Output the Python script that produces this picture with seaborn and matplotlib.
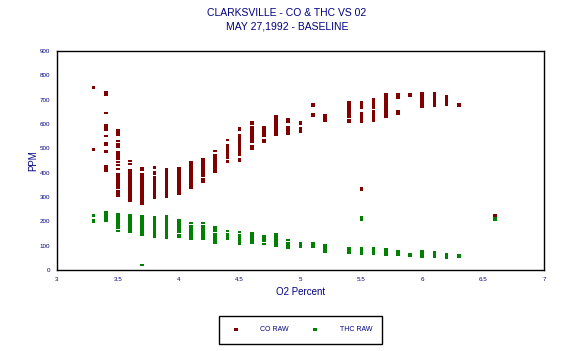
import matplotlib
matplotlib.use("Agg")
import matplotlib.pyplot as plt
import seaborn as sns
import pandas as pd

# O2 percent columns and the ppm readings stacked in each
co_o2 = [3.3, 3.4, 3.5, 3.6, 3.7, 3.8, 3.9, 4.0, 4.1, 4.2, 4.3, 4.4, 4.5, 4.6, 4.7,
         4.8, 4.9, 5.0, 5.1, 5.2, 5.4, 5.5, 5.6, 5.7, 5.8, 5.9, 6.0, 6.1, 6.2, 6.3, 6.6]
co_ppm = [
    [750, 495],
    [730, 720, 645, 595, 585, 577, 550, 523, 513, 487, 425, 415, 407],
    [575, 565, 557, 530, 518, 508, 485, 475, 465, 455, 445, 431, 416, 395, 385, 375,
     365, 356, 346, 336, 325, 315, 306],
    [448, 436, 410, 400, 390, 380, 370, 360, 350, 340, 330, 320, 310, 300, 292, 283],
    [419, 410, 393, 385, 378, 368, 358, 348, 338, 328, 318, 308, 298, 288, 278, 271],
    [423, 418, 402, 397, 382, 372, 362, 352, 342, 332, 322, 312, 302, 295],
    [415, 405, 395, 385, 375, 365, 355, 345, 335, 325, 315, 305, 301],
    [419, 409, 399, 389, 379, 369, 359, 349, 339, 329, 319, 314],
    [443, 433, 423, 413, 403, 393, 383, 373, 363, 353, 343, 338],
    [456, 446, 436, 426, 416, 406, 396, 386, 373, 363],
    [489, 470, 463, 453, 443, 433, 423, 413, 403],
    [533, 513, 503, 495, 489, 479, 469, 459, 449, 443],
    [582, 577, 555, 545, 535, 525, 515, 509, 499, 489, 479, 474, 457, 447],
    [607, 602, 587, 577, 567, 557, 547, 537, 527, 525, 509, 499],
    [587, 577, 567, 557, 552, 535, 528],
    [633, 622, 616, 606, 596, 586, 581, 575, 565, 557],
    [620, 610, 587, 577, 567, 561],
    [607, 602, 583, 573, 569],
    [682, 676, 642, 635],
    [637, 631, 620, 614],
    [691, 684, 674, 664, 659, 649, 639, 631, 616, 610],
    [691, 684, 678, 668, 645, 635, 631, 625, 615, 610, 337, 330],
    [703, 696, 690, 680, 670, 668, 653, 647, 637, 631, 620, 614],
    [721, 714, 707, 697, 688, 682, 676, 666, 656, 647, 637, 631],
    [721, 715, 709, 653, 643],
    [721, 714],
    [725, 719, 713, 707, 700, 696, 690, 684, 678, 672],
    [727, 720, 712, 704, 696, 688, 682, 676],
    [716, 709, 703, 696, 692, 686, 680],
    [683, 676],
    [225, 219],
]

thc_o2 = co_o2
thc_ppm = [
    [224, 206, 200],
    [238, 230, 220, 210, 203],
    [231, 221, 211, 201, 191, 181, 175, 161],
    [225, 215, 205, 195, 185, 175, 165, 157],
    [221, 211, 201, 191, 181, 171, 161, 151, 146, 20],
    [217, 207, 197, 187, 177, 167, 157, 147, 138],
    [221, 211, 201, 191, 181, 171, 161, 151, 141, 131],
    [205, 195, 185, 175, 165, 155, 145, 135],
    [192, 182, 172, 162, 152, 142, 132, 130],
    [192, 182, 172, 162, 152, 142, 132, 130],
    [176, 167, 159, 149, 139, 129, 124, 117, 113],
    [159, 149, 139, 130],
    [155, 145, 135, 125, 115, 108],
    [151, 141, 131, 121, 112],
    [139, 129, 119, 108],
    [147, 141, 135, 125, 115, 105, 100],
    [122, 112, 102, 92],
    [110, 102, 96],
    [110, 102, 96],
    [102, 96, 85, 75],
    [90, 82, 74, 71],
    [219, 207, 90, 82, 74, 67],
    [90, 82, 74, 67],
    [85, 77, 69, 63],
    [77, 69, 63],
    [65, 59],
    [77, 69, 61, 54],
    [73, 65, 57, 54],
    [65, 57, 50],
    [61, 54],
    [213, 207],
]

x_ticks = [3, 3.5, 4, 4.5, 5, 5.5, 6, 6.5, 7]
x_tick_labels = ["3", "3.5", "4", "4.5", "5", "5.5", "6", "6.5", "7"]
y_ticks = list(range(0, 1000, 100))


def long_form(o2s, ppms):
    rows = [(o, p) for o, col in zip(o2s, ppms) for p in col]
    return pd.DataFrame(rows, columns=["o2", "ppm"])


co = long_form(co_o2, co_ppm)
thc = long_form(thc_o2, thc_ppm)

sns.set_style("white")
plt.rcParams["font.family"] = ["Liberation Sans", "DejaVu Sans"]
NAVY = "#000080"

fig = plt.figure(figsize=(5.74, 3.51), dpi=100)
ax = fig.add_axes([0.0993, 0.2308, 0.8484, 0.6239])

dash = [(-2, -1.3), (2, -1.3), (2, 1.3), (-2, 1.3)]
sns.scatterplot(data=co, x="o2", y="ppm", ax=ax, color="#800000", marker=dash,
                s=7, linewidth=0, edgecolor="none", label="CO RAW")
sns.scatterplot(data=thc, x="o2", y="ppm", ax=ax, color="#008000", marker=dash,
                s=7, linewidth=0, edgecolor="none", label="THC RAW")

ax.set_xlim(3, 7)
ax.set_ylim(0, 900)
ax.set_xticks(x_ticks)
ax.set_xticklabels(x_tick_labels)
ax.set_yticks(y_ticks)
ax.tick_params(length=0, labelsize=4.5, labelcolor=NAVY, pad=5)
for s in ax.spines.values():
    s.set_visible(True)
    s.set_color("black")
    s.set_linewidth(1)

ax.set_xlabel("O2 Percent", fontsize=7, color=NAVY, labelpad=4)
ax.set_ylabel("PPM", fontsize=7, color=NAVY, labelpad=1)

fig.text(0.5, 0.962, "CLARKSVILLE - CO & THC VS 02", ha="center", va="center",
         fontsize=7.5, color=NAVY)
fig.text(0.5, 0.925, "MAY 27,1992 - BASELINE", ha="center", va="center",
         fontsize=7.5, color=NAVY)

handles, labels = ax.get_legend_handles_labels()
ax.get_legend().remove()
leg = fig.legend(handles, labels, loc="center", bbox_to_anchor=(0.5235, 0.06), ncol=2,
                 fancybox=False, edgecolor="black", framealpha=1, fontsize=5,
                 handletextpad=2.5, columnspacing=2.8, borderpad=1.5, markerscale=1.2)
leg.get_frame().set_linewidth(1)
for t in leg.get_texts():
    t.set_color(NAVY)

fig.savefig("out.png", dpi=100)
